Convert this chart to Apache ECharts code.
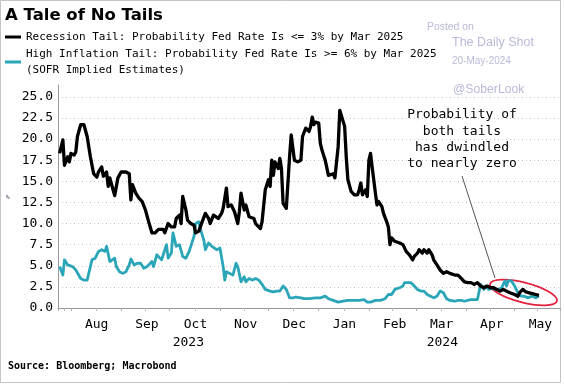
<!DOCTYPE html>
<html><head><meta charset="utf-8">
<script src="https://cdn.jsdelivr.net/npm/echarts@6/dist/echarts.min.js"></script>
<style>html,body{margin:0;padding:0;background:#fff;}#c{width:564px;height:385px;}</style>
</head><body><div id="c"></div>
<script>
const seriesNames = [
  'Recession Tail: Probability Fed Rate Is <= 3% by Mar 2025',
  'High Inflation Tail: Probability Fed Rate Is >= 6% by Mar 2025\n(SOFR Implied Estimates)'
];
const monthLabels = ['Jan','Feb','Mar','Apr','May','Jun','Jul','Aug','Sep','Oct','Nov','Dec'];
const yearLabels = ['2023','2024'];
const yTicks = [0,2.5,5,7.5,10,12.5,15,17.5,20,22.5,25];

const recession = [
['2023-07-25',18.3],['2023-07-27',19.9],['2023-07-28',16.9],['2023-07-30',17.9],['2023-07-31',17.3],
['2023-08-01',18.3],['2023-08-03',18.1],['2023-08-04',18.5],['2023-08-05',20.3],['2023-08-07',21.7],
['2023-08-09',21.7],['2023-08-11',20.3],['2023-08-13',17.9],['2023-08-15',15.9],['2023-08-17',15.5],
['2023-08-18',16.1],['2023-08-20',16.7],['2023-08-21',15.6],['2023-08-23',16.1],['2023-08-24',14.4],
['2023-08-25',15.4],['2023-08-27',14.0],['2023-08-28',13.3],['2023-08-30',15.4],['2023-09-01',16.1],
['2023-09-04',16.1],['2023-09-06',15.9],['2023-09-07',12.8],['2023-09-08',14.6],['2023-09-10',13.6],
['2023-09-12',13.0],['2023-09-14',12.6],['2023-09-16',11.6],['2023-09-18',10.2],['2023-09-20',8.9],
['2023-09-22',8.9],['2023-09-24',9.3],['2023-09-27',9.3],['2023-09-28',8.9],['2023-09-30',10.0],
['2023-10-02',9.6],['2023-10-04',9.6],['2023-10-05',10.6],['2023-10-07',11.0],['2023-10-08',10.0],
['2023-10-09',13.2],['2023-10-11',11.6],['2023-10-12',10.4],['2023-10-14',10.0],['2023-10-16',9.8],
['2023-10-17',8.9],['2023-10-19',9.1],['2023-10-21',10.2],['2023-10-23',11.2],['2023-10-25',10.6],
['2023-10-26',10.0],['2023-10-28',11.0],['2023-10-29',11.2],['2023-10-31',10.6],['2023-11-02',11.2],
['2023-11-03',11.8],['2023-11-05',14.2],['2023-11-06',12.0],['2023-11-08',12.2],['2023-11-10',11.4],
['2023-11-12',10.0],['2023-11-13',11.4],['2023-11-14',13.6],['2023-11-16',11.6],['2023-11-17',12.2],
['2023-11-19',10.8],['2023-11-20',10.6],['2023-11-22',10.6],['2023-11-23',10.0],['2023-11-26',9.4],
['2023-11-27',10.2],['2023-11-29',14.0],['2023-12-01',15.2],['2023-12-02',14.4],['2023-12-03',17.5],
['2023-12-04',15.7],['2023-12-05',17.3],['2023-12-07',16.5],['2023-12-08',17.7],['2023-12-09',16.5],
['2023-12-10',12.4],['2023-12-12',11.8],['2023-12-14',17.9],['2023-12-15',20.5],['2023-12-17',17.5],
['2023-12-19',17.3],['2023-12-21',17.5],['2023-12-22',20.3],['2023-12-24',21.3],['2023-12-26',20.9],
['2023-12-27',21.5],['2023-12-28',22.6],['2023-12-29',21.7],['2023-12-30',22.0],['2024-01-01',21.9],
['2024-01-02',19.5],['2024-01-03',18.7],['2024-01-05',17.5],['2024-01-07',15.7],['2024-01-08',15.6],
['2024-01-10',15.9],['2024-01-11',15.4],['2024-01-13',19.1],['2024-01-14',23.4],['2024-01-15',23.6],
['2024-01-17',21.5],['2024-01-18',17.9],['2024-01-19',15.2],['2024-01-20',15.4],['2024-01-21',13.8],
['2024-01-23',13.4],['2024-01-25',13.4],['2024-01-26',14.0],['2024-01-27',14.8],['2024-01-28',13.4],
['2024-01-30',14.0],['2024-01-31',13.2],['2024-02-01',17.5],['2024-02-02',18.3],['2024-02-03',16.7],
['2024-02-05',13.6],['2024-02-06',12.2],['2024-02-07',12.6],['2024-02-09',12.0],['2024-02-10',11.2],
['2024-02-12',10.2],['2024-02-13',9.6],['2024-02-14',7.5],['2024-02-15',8.3],['2024-02-17',7.9],
['2024-02-20',7.7],['2024-02-22',7.5],['2024-02-24',6.7],['2024-02-26',6.3],['2024-02-28',5.7],
['2024-02-29',6.1],['2024-03-02',6.5],['2024-03-03',6.9],['2024-03-05',6.5],['2024-03-06',6.9],
['2024-03-08',6.5],['2024-03-09',6.9],['2024-03-11',6.3],['2024-03-12',5.7],['2024-03-14',5.1],
['2024-03-16',4.5],['2024-03-18',4.1],['2024-03-20',4.3],['2024-03-22',4.1],['2024-03-25',3.9],
['2024-03-27',3.9],['2024-03-29',3.5],['2024-03-31',3.1],['2024-04-02',3.0],['2024-04-04',3.0],
['2024-04-06',2.8],['2024-04-08',3.0],['2024-04-10',2.6],['2024-04-12',2.4],['2024-04-14',2.6],
['2024-04-16',2.4],['2024-04-18',2.4],['2024-04-20',2.2],['2024-04-22',2.0],['2024-04-24',2.2],
['2024-04-26',2.0],['2024-04-28',1.8],['2024-05-01',1.6],['2024-05-03',1.4],['2024-05-04',1.8],
['2024-05-06',2.2],['2024-05-08',1.9],['2024-05-10',1.8],['2024-05-12',1.7],['2024-05-14',1.6],
['2024-05-16',1.5]
];

const inflation = [
['2023-07-25',4.9],['2023-07-27',3.9],['2023-07-28',5.7],['2023-07-30',5.1],['2023-07-31',4.9],
['2023-08-02',4.9],['2023-08-04',4.5],['2023-08-05',4.7],['2023-08-07',3.5],['2023-08-09',3.3],
['2023-08-11',3.3],['2023-08-12',4.1],['2023-08-14',5.7],['2023-08-16',5.9],['2023-08-18',6.7],
['2023-08-19',6.5],['2023-08-20',6.9],['2023-08-22',6.7],['2023-08-23',7.3],['2023-08-25',5.5],
['2023-08-26',5.5],['2023-08-28',5.9],['2023-08-29',4.9],['2023-08-31',4.3],['2023-09-02',4.1],
['2023-09-04',4.3],['2023-09-06',5.1],['2023-09-07',5.8],['2023-09-09',5.1],['2023-09-11',5.3],
['2023-09-13',5.3],['2023-09-15',4.7],['2023-09-17',4.9],['2023-09-18',5.1],['2023-09-20',5.5],
['2023-09-21',4.9],['2023-09-23',6.3],['2023-09-24',6.1],['2023-09-26',5.7],['2023-09-27',6.3],
['2023-09-29',7.5],['2023-09-30',5.9],['2023-10-02',6.5],['2023-10-03',8.9],['2023-10-05',7.3],
['2023-10-06',7.1],['2023-10-07',7.5],['2023-10-09',6.1],['2023-10-11',5.9],['2023-10-13',6.7],
['2023-10-14',7.3],['2023-10-16',8.5],['2023-10-17',10.0],['2023-10-19',10.2],['2023-10-20',9.3],
['2023-10-22',8.1],['2023-10-23',6.9],['2023-10-25',7.7],['2023-10-27',7.3],['2023-10-28',7.3],
['2023-10-30',6.9],['2023-11-01',7.1],['2023-11-03',4.9],['2023-11-04',3.3],['2023-11-05',4.3],
['2023-11-07',4.1],['2023-11-09',3.9],['2023-11-11',5.3],['2023-11-12',4.9],['2023-11-14',3.1],
['2023-11-16',3.7],['2023-11-17',3.1],['2023-11-19',3.5],['2023-11-21',3.3],['2023-11-23',3.5],
['2023-11-25',3.3],['2023-11-27',2.8],['2023-11-29',2.2],['2023-12-02',2.0],['2023-12-04',1.9],
['2023-12-06',2.0],['2023-12-08',2.0],['2023-12-10',2.6],['2023-12-12',2.2],['2023-12-14',1.2],
['2023-12-16',1.2],['2023-12-18',1.3],['2023-12-21',1.2],['2023-12-23',1.1],['2023-12-26',1.1],
['2023-12-30',1.2],['2024-01-02',1.2],['2024-01-05',1.4],['2024-01-07',1.1],['2024-01-10',0.9],
['2024-01-13',0.7],['2024-01-16',0.8],['2024-01-19',0.9],['2024-01-23',0.9],['2024-01-26',0.9],
['2024-01-29',1.0],['2024-01-31',0.7],['2024-02-02',0.7],['2024-02-05',0.9],['2024-02-08',0.9],
['2024-02-11',1.1],['2024-02-13',1.6],['2024-02-15',1.6],['2024-02-17',2.2],['2024-02-20',2.4],
['2024-02-22',2.6],['2024-02-23',3.0],['2024-02-25',3.0],['2024-02-27',3.0],['2024-02-29',2.6],
['2024-03-02',2.2],['2024-03-04',2.0],['2024-03-06',2.0],['2024-03-08',1.6],['2024-03-10',1.4],
['2024-03-12',1.2],['2024-03-14',1.4],['2024-03-16',2.0],['2024-03-18',1.8],['2024-03-20',1.1],
['2024-03-22',0.9],['2024-03-25',0.8],['2024-03-27',0.9],['2024-03-29',0.9],['2024-03-31',0.8],
['2024-04-02',0.9],['2024-04-04',1.0],['2024-04-06',1.0],['2024-04-08',1.0],['2024-04-09',1.1],
['2024-04-10',2.8],['2024-04-12',2.2],['2024-04-13',2.6],['2024-04-15',2.2],['2024-04-17',2.4],
['2024-04-19',2.2],['2024-04-21',2.2],['2024-04-23',2.4],['2024-04-25',3.2],['2024-04-26',2.6],
['2024-04-27',3.2],['2024-04-29',3.2],['2024-05-01',2.6],['2024-05-03',1.8],['2024-05-05',1.4],
['2024-05-07',1.4],['2024-05-09',1.2],['2024-05-12',1.4],['2024-05-14',1.2],['2024-05-16',1.4]
];

const MONO = '"DejaVu Sans Mono", monospace';
const WM = '#b9b9d9';
const chart = echarts.init(document.getElementById('c'), null, {renderer: 'canvas'});

const option = {
  animation: false,
  backgroundColor: '#fff',
  title: {
    text: 'A Tale of No Tails', left: 5, top: 7, padding: 0,
    textStyle: {fontFamily: '"DejaVu Sans", sans-serif', fontWeight: 'bold', fontSize: 16.5, color: '#000'}
  },
  legend: {
    orient: 'vertical', left: 5, top: 29, padding: 0, itemGap: 1,
    itemWidth: 16, itemHeight: 3, icon: 'rect', selectedMode: false,
    textStyle: {fontFamily: MONO, fontSize: 11, lineHeight: 16, color: '#000'},
    data: [{name: seriesNames[0]}, {name: seriesNames[1]}]
  },
  grid: {left: 58, right: 4, top: 85, bottom: 77, containLabel: false},
  xAxis: {
    type: 'time', min: '2023-07-24', max: '2024-05-29', splitNumber: 12,
    axisLine: {lineStyle: {color: '#999'}},
    axisTick: {show: true, length: 3, lineStyle: {color: '#aaa'}},
    minorTick: {show: true, splitNumber: 2, length: 3, lineStyle: {color: '#bbb'}},
    splitLine: {show: false},
    axisLabel: {
      formatter: function (v) {
        const d = new Date(v);
        return d.getDate() === 1 ? monthLabels[d.getMonth()] : '';
      },
      align: 'left', padding: [0, 0, 0, 14], margin: 10, hideOverlap: false,
      fontFamily: MONO, fontSize: 13, color: '#000'
    }
  },
  yAxis: {
    type: 'value', min: 0, max: 26.4, interval: 2.5,
    axisLine: {show: true, lineStyle: {color: '#999'}},
    axisTick: {show: false},
    splitLine: {show: true, showMaxLine: false, lineStyle: {color: '#c4c4c4', type: [1, 3]}},
    axisLabel: {
      showMaxLabel: false, margin: 5, fontFamily: MONO, fontSize: 13, color: '#000',
      formatter: function (v) {
        return yTicks.some(t => Math.abs(t - v) < 1e-6) ? v.toFixed(1) : '';
      }
    }
  },
  series: [
    {name: seriesNames[0], type: 'line', data: recession, showSymbol: false, symbol: 'none', z: 4,
     color: '#000', lineStyle: {color: '#000', width: 3.3, join: 'round'}},
    {name: seriesNames[1], type: 'line', data: inflation, showSymbol: false, symbol: 'none', z: 3,
     color: '#2aa6b8', lineStyle: {color: '#2aa6b8', width: 2.8, join: 'round'}}
  ]
};
chart.setOption(option);

const xJan = chart.convertToPixel({xAxisIndex: 0}, '2024-01-01');
const xMin = chart.convertToPixel({xAxisIndex: 0}, '2023-07-24');
const xMax = chart.convertToPixel({xAxisIndex: 0}, '2024-05-29');

chart.setOption({
  graphic: [
    {type: 'rect', shape: {x: 0.5, y: 0.5, width: 560, height: 382}, style: {fill: 'none', stroke: '#c4c4c4', lineWidth: 1}, silent: true},
    {type: 'text', x: 427, y: 27, style: {text: 'Posted on', fontFamily: '"Liberation Sans", Arial', fontSize: 10.4, fill: WM, verticalAlign: 'middle'}},
    {type: 'text', x: 452, y: 43, style: {text: 'The Daily Shot', fontFamily: '"Liberation Sans", Arial', fontSize: 12.5, fill: WM, verticalAlign: 'middle'}},
    {type: 'text', x: 452, y: 61, style: {text: '20-May-2024', fontFamily: '"Liberation Sans", Arial', fontSize: 10, fill: WM, verticalAlign: 'middle'}},
    {type: 'text', x: 453, y: 90, style: {text: '@SoberLook', fontFamily: '"Liberation Sans", Arial', fontSize: 12.2, fill: WM, verticalAlign: 'middle'}},
    {type: 'text', x: 462, y: 139.5, style: {text: 'Probability of\nboth tails\nhas dwindled\nto nearly zero', fontFamily: MONO, fontSize: 13, lineHeight: 16.3, fill: '#000', align: 'center', verticalAlign: 'middle'}},
    {type: 'line', shape: {x1: 462, y1: 176, x2: 495, y2: 278}, style: {stroke: '#555', lineWidth: 1}},
    {type: 'ellipse', x: 523.5, y: 292.5, rotation: -0.25, shape: {cx: 0, cy: 0, rx: 34.5, ry: 10}, style: {fill: 'none', stroke: '#e5203c', lineWidth: 1.8}},
    {type: 'text', x: (xMin + xJan) / 2, y: 343, style: {text: yearLabels[0], fontFamily: MONO, fontSize: 13, fill: '#000', align: 'center', verticalAlign: 'middle'}},
    {type: 'text', x: (xJan + xMax) / 2 + 3, y: 343, style: {text: yearLabels[1], fontFamily: MONO, fontSize: 13, fill: '#000', align: 'center', verticalAlign: 'middle'}},
    {type: 'text', x: 8, y: 366, style: {text: 'Source: Bloomberg; Macrobond', fontFamily: MONO, fontWeight: 'bold', fontSize: 10, fill: '#000', verticalAlign: 'middle'}},
    {type: 'text', x: 6, y: 197, style: {text: '%', fontFamily: MONO, fontSize: 6, fill: '#446', verticalAlign: 'middle'}}
  ]
});
</script>
</body></html>
